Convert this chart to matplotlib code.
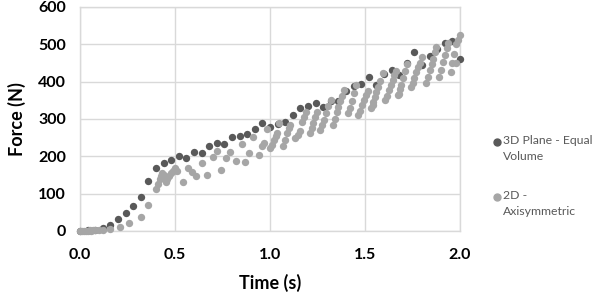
import numpy as np
import matplotlib.pyplot as plt
from matplotlib.lines import Line2D

plt.rcParams['font.family'] = ['Lato', 'DejaVu Sans']

# 3D Plane - Equal Volume (one point every 0.04 s)
t_3d = [0.00, 0.04, 0.08, 0.12, 0.16, 0.20, 0.24, 0.28, 0.32, 0.36,
        0.40, 0.44, 0.48, 0.52, 0.56, 0.60, 0.64, 0.68, 0.72, 0.76,
        0.80, 0.84, 0.88, 0.92, 0.96, 1.00, 1.04, 1.08, 1.12, 1.16,
        1.20, 1.24, 1.28, 1.32, 1.36, 1.40, 1.44, 1.48, 1.52, 1.56,
        1.60, 1.64, 1.68, 1.72, 1.76, 1.80, 1.84, 1.88, 1.92, 1.96, 2.00]
f_3d = [0, 2, 4, 9, 17, 31, 47, 66, 92, 135,
        168, 181, 190, 201, 195, 212, 210, 228, 237, 232,
        251, 254, 259, 272, 290, 278, 287, 293, 312, 330,
        335, 343, 333, 348, 349, 376, 388, 395, 412, 392,
        420, 431, 417, 450, 479, 444, 470, 487, 504, 510, 461]

# 2D - Axisymmetric
t_2d = [0.00, 0.01, 0.02, 0.03, 0.04, 0.05, 0.06, 0.07, 0.08, 0.10, 0.12, 0.16,
        0.21, 0.26, 0.32, 0.36,
        0.40, 0.41, 0.42, 0.425, 0.43, 0.44, 0.445, 0.45, 0.46, 0.47, 0.48, 0.49, 0.50,
        0.51, 0.54, 0.57, 0.59, 0.61, 0.64, 0.67, 0.70, 0.72, 0.74, 0.77, 0.79,
        0.82, 0.85, 0.87, 0.89, 0.91, 0.94, 0.96, 0.97, 0.985,
        1.00, 1.01, 1.02, 1.03, 1.035, 1.045,
        1.07, 1.08, 1.09, 1.10, 1.105,
        1.13, 1.145, 1.16, 1.17, 1.18, 1.19,
        1.21, 1.22, 1.225, 1.235, 1.245,
        1.265, 1.275, 1.285, 1.295, 1.305, 1.32,
        1.33, 1.34, 1.35, 1.36, 1.37, 1.38, 1.39,
        1.41, 1.42, 1.43, 1.44, 1.45,
        1.465, 1.475, 1.485, 1.495, 1.505, 1.515,
        1.53, 1.54, 1.54, 1.55, 1.56, 1.57, 1.58, 1.595,
        1.605, 1.615, 1.625, 1.635, 1.645, 1.655, 1.665,
        1.675, 1.68, 1.685, 1.69, 1.70, 1.71, 1.72,
        1.74, 1.75, 1.76, 1.77, 1.78, 1.79, 1.80,
        1.82, 1.83, 1.84, 1.85, 1.86, 1.87, 1.875,
        1.89, 1.90, 1.91, 1.92, 1.93, 1.935,
        1.95, 1.96, 1.97, 1.98, 1.98, 1.99, 2.00]
f_2d = [0, 0, 1, 0, 1, 2, 1, 2, 3, 3, 4, 5,
        10, 21, 38, 70,
        112, 125, 138, 148, 155, 150, 140, 130, 138, 148, 155, 160, 168,
        162, 132, 168, 159, 146, 181, 150, 197, 214, 163, 195, 211,
        188, 232, 186, 209, 253, 204, 228, 236, 272,
        222, 230, 244, 255, 262, 289,
        228, 245, 262, 275, 284,
        248, 257, 268, 293, 306, 320,
        262, 275, 290, 306, 320,
        270, 285, 298, 315, 335, 351,
        284, 300, 318, 333, 347, 362, 378,
        315, 330, 348, 370, 392,
        310, 322, 338, 352, 365, 374,
        330, 345, 337, 358, 372, 385, 402, 424,
        350, 362, 378, 392, 405, 418, 428,
        364, 366, 380, 392, 410, 428, 447,
        385, 396, 410, 425, 438, 450, 465,
        396, 412, 430, 448, 462, 480, 494,
        413, 432, 452, 472, 490, 503,
        426, 450, 475, 449, 500, 512, 525]

x_ticks = [0.0, 0.5, 1.0, 1.5, 2.0]
y_ticks = [0, 100, 200, 300, 400, 500, 600]

dark = '#595959'
light = '#a6a6a6'
grid_c = '#d9d9d9'

fig = plt.figure(figsize=(5.98, 2.94), dpi=100)
ax = fig.add_axes([80/598, 1-231/294, 380/598, 224/294])

ax.scatter(t_3d, f_3d, s=28, color=dark, linewidths=0, zorder=3, clip_on=False)
ax.scatter(t_2d, f_2d, s=28, color=light, linewidths=0, zorder=4, clip_on=False)

ax.set_xlim(0, 2.0)
ax.set_ylim(0, 600)
ax.set_xticks(x_ticks)
ax.set_yticks(y_ticks)
ax.set_xticklabels(['%.1f' % v for v in x_ticks], fontweight='bold', fontsize=11.5)
ax.set_yticklabels([str(v) for v in y_ticks], fontweight='bold', fontsize=11.5)
ax.tick_params(axis='x', length=0, pad=12)
ax.tick_params(axis='y', length=0, pad=10)
ax.grid(True, color=grid_c, linewidth=1)
ax.set_axisbelow(True)
for sp in ax.spines.values():
    sp.set_color(grid_c)
    sp.set_linewidth(1)

ax.set_xlabel('Time (s)', fontweight='bold', fontsize=13, labelpad=9)
ax.set_ylabel('Force (N)', fontweight='bold', fontsize=13, labelpad=9)

# legend drawn by hand so the marker sits on the first line
for y, col, lab in [(142, dark, '3D Plane - Equal\nVolume'),
                    (197, light, '2D -\nAxisymmetric')]:
    fig.add_artist(Line2D([497/598], [1-y/294], marker='o', markersize=5,
                          color=col, linestyle='none', transform=fig.transFigure))
    fig.text(503/598, 1-(y-7)/294, lab, fontsize=8.8, color=dark,
             va='top', ha='left', linespacing=1.55)

fig.savefig('out.png', dpi=100)
